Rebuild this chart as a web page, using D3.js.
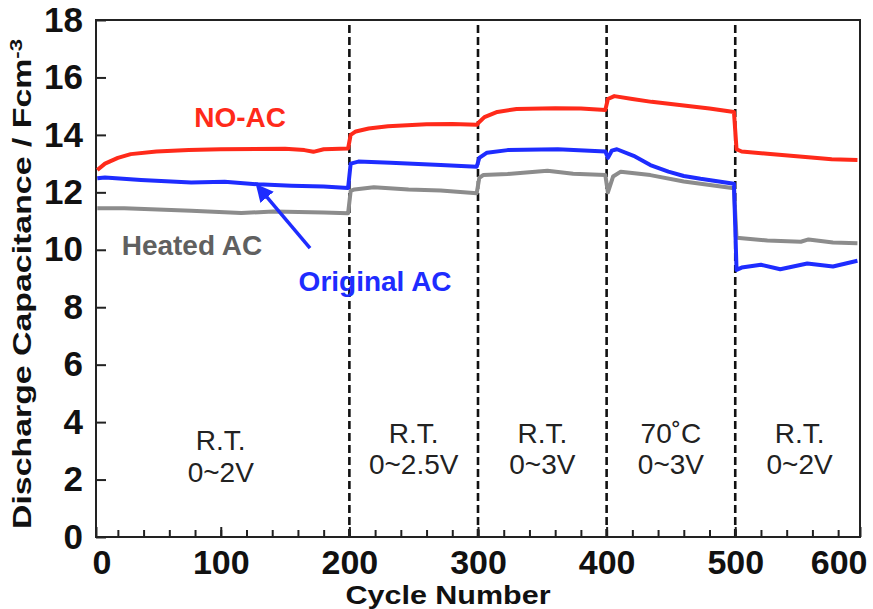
<!DOCTYPE html>
<html>
<head>
<meta charset="utf-8">
<script src="https://cdn.jsdelivr.net/npm/d3@7"></script>
<style>
  body { margin: 0; background: #fff; }
  text { font-family: "Liberation Sans", Arial, sans-serif; }
</style>
</head>
<body>
<div id="chart"></div>
<script>
'use strict';

// [cycle, capacitance]
var noAC = [
  [4, 12.78], [10, 13.0], [20, 13.2], [30, 13.33], [50, 13.42], [75, 13.47], [100, 13.5],
  [150, 13.52], [165, 13.47], [172, 13.41], [180, 13.5], [199, 13.53],
  [201, 14.0], [205, 14.12], [215, 14.22], [230, 14.3], [260, 14.37], [280, 14.38], [299, 14.35],
  [301, 14.45], [305, 14.62], [315, 14.8], [330, 14.9], [360, 14.93], [380, 14.92], [399, 14.87],
  [401, 15.25], [406, 15.35], [420, 15.25], [435, 15.15], [460, 15.02], [480, 14.92], [499, 14.8],
  [501, 13.5], [505, 13.42], [525, 13.34], [550, 13.25], [575, 13.15], [595, 13.13]
];

var originalAC = [
  [4, 12.49], [10, 12.52], [38, 12.43], [77, 12.34], [103, 12.37], [129, 12.28], [155, 12.23],
  [180, 12.2], [199, 12.15],
  [201, 13.0], [207, 13.07], [232, 13.03], [271, 12.95], [299, 12.89],
  [301, 13.2], [307, 13.38], [323, 13.47], [362, 13.5], [399, 13.42],
  [401, 13.2], [404, 13.45], [408, 13.5], [421, 13.27], [434, 12.95], [448, 12.72], [460, 12.57],
  [473, 12.47], [499, 12.3],
  [501, 9.3], [505, 9.38], [520, 9.48], [535, 9.32], [556, 9.52], [576, 9.42], [595, 9.62]
];

var heatedAC = [
  [4, 11.45], [25, 11.45], [77, 11.36], [116, 11.28], [141, 11.33], [180, 11.3], [199, 11.27],
  [201, 12.05], [204, 12.1], [219, 12.18], [246, 12.1], [271, 12.06], [299, 11.97],
  [301, 12.5], [304, 12.6], [323, 12.64], [354, 12.75], [374, 12.65], [399, 12.6],
  [401, 12.0], [405, 12.55], [411, 12.72], [434, 12.6], [460, 12.38], [499, 12.14],
  [501, 10.42], [525, 10.32], [551, 10.28], [557, 10.36], [576, 10.25], [595, 10.23]
];

var xTicks = [0, 100, 200, 300, 400, 500, 600];
var xMinorTicks = d3.range(20, 600, 20);
var yTicks = [0, 2, 4, 6, 8, 10, 12, 14, 16, 18];
var boundaries = [200, 300, 400, 500];

var segMids = [100, 250, 350, 450, 550];
var segTop = ['R.T.', 'R.T.', 'R.T.', '70˚C', 'R.T.'];
var segBottom = ['0~2V', '0~2.5V', '0~3V', '0~3V', '0~2V'];

var width = 873, height = 609;
var margins = { top: 20, left: 96, right: 13, bottom: 72 };

var svg = d3.select('#chart')
  .append('svg')
  .attr('width', width)
  .attr('height', height);

var x = d3.scaleLinear()
  .domain([3, 597])
  .range([margins.left, width - margins.right])
  .clamp(true);

var y = d3.scaleLinear()
  .domain([0, 18])
  .range([height - margins.bottom, margins.top]);

// dashed separators
svg.selectAll('line.sep')
  .data(boundaries)
  .enter()
  .append('line')
  .attr('x1', function (d) { return x(d); })
  .attr('x2', function (d) { return x(d); })
  .attr('y1', y(0))
  .attr('y2', y(18))
  .attr('stroke', '#111')
  .attr('stroke-width', 2.6)
  .attr('stroke-dasharray', '8,4');

// axes (ticks pointing inward)
var yAxis = svg.append('g')
  .attr('transform', 'translate(' + x(3) + ',0)')
  .call(d3.axisLeft(y).tickValues(yTicks).tickSize(-10).tickPadding(13));

var xAxis = svg.append('g')
  .attr('transform', 'translate(0,' + y(0) + ')')
  .call(d3.axisBottom(x).tickValues(xTicks).tickSize(-10).tickPadding(13));

var xMinor = svg.append('g')
  .attr('transform', 'translate(0,' + y(0) + ')')
  .call(d3.axisBottom(x).tickValues(xMinorTicks).tickSize(-7).tickFormat(''));

[yAxis, xAxis, xMinor].forEach(function (g) {
  g.select('.domain').remove();
  g.selectAll('.tick line').attr('stroke', '#222').attr('stroke-width', 2);
  g.selectAll('.tick text')
    .attr('font-family', '"Liberation Sans", Arial, sans-serif')
    .attr('font-weight', 'bold')
    .attr('font-size', 34)
    .attr('fill', '#111');
});
yAxis.selectAll('.tick text').attr('font-size', 35);

xAxis.selectAll('.tick text')
  .filter(function (d) { return d === 0; })
  .attr('text-anchor', 'start')
  .attr('dx', -4);
xAxis.selectAll('.tick text')
  .filter(function (d) { return d === 600; })
  .attr('text-anchor', 'end')
  .attr('dx', 7);

// frame
svg.append('rect')
  .attr('x', x(3))
  .attr('y', y(18))
  .attr('width', x(597) - x(3))
  .attr('height', y(0) - y(18))
  .attr('fill', 'none')
  .attr('stroke', '#222')
  .attr('stroke-width', 2);

// series
var line = d3.line()
  .x(function (d) { return x(d[0]); })
  .y(function (d) { return y(d[1]); });

var series = [
  { data: heatedAC, color: '#8c8c8c' },
  { data: originalAC, color: '#1e2cff' },
  { data: noAC, color: '#ff2a1a' }
];

svg.selectAll('path.series')
  .data(series)
  .enter()
  .append('path')
  .attr('class', 'series')
  .attr('d', function (d) { return line(d.data); })
  .attr('fill', 'none')
  .attr('stroke', function (d) { return d.color; })
  .attr('stroke-width', 4)
  .attr('stroke-linejoin', 'round');

// segment condition labels
svg.selectAll('text.segTop')
  .data(segMids)
  .enter()
  .append('text')
  .attr('x', function (d) { return x(d); })
  .attr('y', function (d, i) { return y(i === 0 ? 3.03 : 3.27); })
  .attr('text-anchor', 'middle')
  .attr('font-size', 28)
  .attr('fill', '#222')
  .text(function (d, i) { return segTop[i]; });

svg.selectAll('text.segBottom')
  .data(segMids)
  .enter()
  .append('text')
  .attr('x', function (d) { return x(d); })
  .attr('y', function (d, i) { return y(i === 0 ? 1.92 : 2.19); })
  .attr('text-anchor', 'middle')
  .attr('font-size', 28)
  .attr('fill', '#222')
  .text(function (d, i) { return segBottom[i]; });

// series labels
var labels = [
  { text: 'NO-AC', cx: 115, cy: 14.28, color: '#ff2a1a' },
  { text: 'Heated AC', cx: 77.6, cy: 9.82, color: '#606060' },
  { text: 'Original AC', cx: 220, cy: 8.57, color: '#1e2cff' }
];

svg.selectAll('text.series-label')
  .data(labels)
  .enter()
  .append('text')
  .attr('x', function (d) { return x(d.cx); })
  .attr('y', function (d) { return y(d.cy); })
  .attr('text-anchor', 'middle')
  .attr('font-size', 28)
  .attr('font-weight', 'bold')
  .attr('fill', function (d) { return d.color; })
  .text(function (d) { return d.text; });

// arrow pointing at the Original AC curve
svg.append('defs')
  .append('marker')
  .attr('id', 'head')
  .attr('viewBox', '0 0 10 10')
  .attr('refX', 8)
  .attr('refY', 5)
  .attr('markerWidth', 5)
  .attr('markerHeight', 5)
  .attr('orient', 'auto')
  .append('path')
  .attr('d', 'M0,0 L10,5 L0,10 Z')
  .attr('fill', '#1e2cff');

svg.append('line')
  .attr('x1', x(169.4))
  .attr('y1', y(10.06))
  .attr('x2', x(129))
  .attr('y2', y(12.2))
  .attr('stroke', '#1e2cff')
  .attr('stroke-width', 3.5)
  .attr('marker-end', 'url(#head)');

// axis titles
svg.append('text')
  .attr('x', 448)
  .attr('y', 604)
  .attr('text-anchor', 'middle')
  .attr('font-size', 26)
  .attr('font-weight', 'bold')
  .attr('fill', '#111')
  .attr('textLength', 205)
  .attr('lengthAdjust', 'spacingAndGlyphs')
  .text('Cycle Number');

var yTitle = svg.append('text')
  .attr('transform', 'translate(31,' + 284 + ') rotate(-90)')
  .attr('text-anchor', 'middle')
  .attr('font-size', 26)
  .attr('font-weight', 'bold')
  .attr('fill', '#111')
  .attr('textLength', 490)
  .attr('lengthAdjust', 'spacingAndGlyphs');
yTitle.append('tspan').text('Discharge Capacitance / Fcm');
yTitle.append('tspan')
  .attr('font-size', 17)
  .attr('baseline-shift', 'super')
  .text('-3');

</script>
</body>
</html>
